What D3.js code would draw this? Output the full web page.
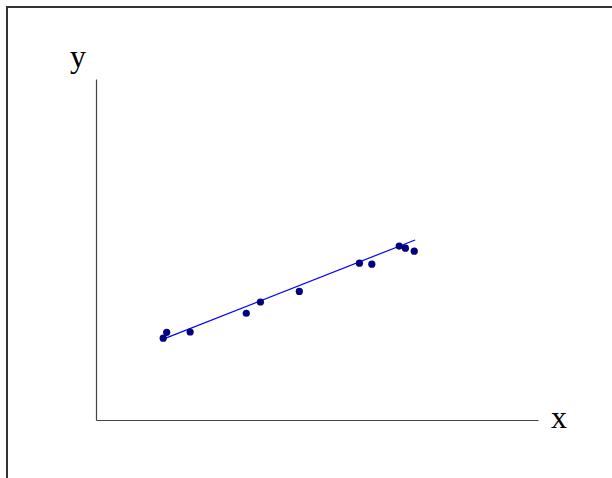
<!DOCTYPE html>
<html>
<head>
<meta charset="utf-8">
<script src="https://cdn.jsdelivr.net/npm/d3@7"></script>
<style>
  html, body { margin: 0; padding: 0; background: #fff; overflow: hidden; }
  svg { display: block; }
</style>
</head>
<body>
<div id="chart"></div>
<script>
// scatter with fitted line, no ticks
const xs = [1.52, 1.60, 2.13, 3.40, 3.72, 4.60, 5.96, 6.24, 6.86, 7.00, 7.20];
const ys = [2.40, 2.57, 2.58, 3.13, 3.46, 3.77, 4.60, 4.57, 5.10, 5.04, 4.95];
const fitX = [1.52, 7.22];
const fitY = [2.37, 5.28];
const xDomain = [0, 10];
const yDomain = [0, 10];

const W = 612, H = 478;
const margin = { top: 79, right: 74, bottom: 58, left: 96 };

const svg = d3.select("#chart").append("svg")
  .attr("width", W)
  .attr("height", H);

// outer frame (runs off the right and bottom edges)
svg.append("rect")
  .attr("x", 7).attr("y", 7)
  .attr("width", 640).attr("height", 520)
  .attr("fill", "none")
  .attr("stroke", "#333")
  .attr("stroke-width", 2);

const x = d3.scaleLinear().domain(xDomain).range([margin.left, W - margin.right]);
const y = d3.scaleLinear().domain(yDomain).range([H - margin.bottom, margin.top]);

svg.append("g")
  .attr("transform", `translate(0,${H - margin.bottom})`)
  .call(d3.axisBottom(x).ticks(0).tickSize(0).tickSizeOuter(0))
  .call(g => g.select(".domain").attr("stroke", "#444").attr("stroke-width", 1.2));

svg.append("g")
  .attr("transform", `translate(${margin.left},0)`)
  .call(d3.axisLeft(y).ticks(0).tickSize(0).tickSizeOuter(0))
  .call(g => g.select(".domain").attr("stroke", "#444").attr("stroke-width", 1.2));

svg.append("text")
  .attr("x", W - margin.right + 21)
  .attr("y", H - margin.bottom + 8)
  .attr("text-anchor", "middle")
  .attr("font-family", "'Liberation Serif', serif")
  .attr("font-size", 32)
  .attr("fill", "#000")
  .text("x");

svg.append("text")
  .attr("x", margin.left - 18)
  .attr("y", margin.top - 12)
  .attr("text-anchor", "middle")
  .attr("font-family", "'Liberation Serif', serif")
  .attr("font-size", 32)
  .attr("fill", "#000")
  .text("y");

const line = d3.line().x(d => x(d[0])).y(d => y(d[1]));
svg.append("path")
  .datum(d3.zip(fitX, fitY))
  .attr("d", line)
  .attr("fill", "none")
  .attr("stroke", "#0000ff")
  .attr("stroke-width", 1.2);

svg.selectAll(".pt")
  .data(d3.zip(xs, ys))
  .join("circle")
  .attr("class", "pt")
  .attr("cx", d => x(d[0]))
  .attr("cy", d => y(d[1]))
  .attr("r", 3.6)
  .attr("fill", "#00007f");
</script>
</body>
</html>
